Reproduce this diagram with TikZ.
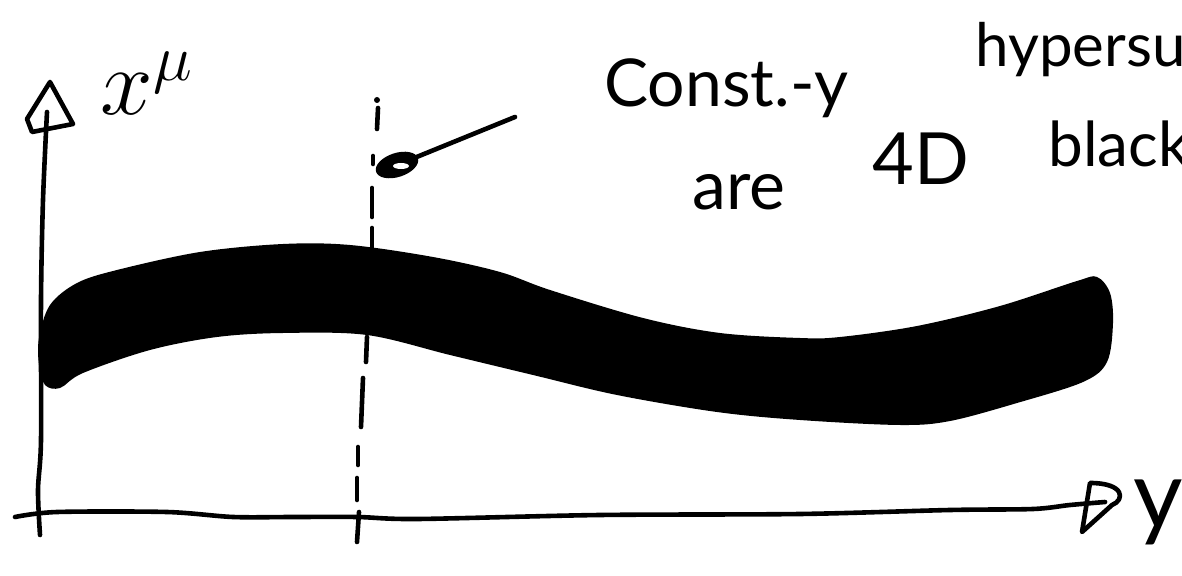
\documentclass[tikz,border=0pt]{standalone}
\usepackage{fontspec}
\usetikzlibrary{shapes.geometric}
\setmainfont{Lato}
\begin{document}
\begin{tikzpicture}[x=0.5pt,y=-0.5pt,
  pen/.style={line width=2.3pt,line cap=round,line join=round},
  hand/.style={inner sep=0pt,anchor=base west}]
\useasboundingbox (0,0) rectangle (1182,576);
\clip (0,0) rectangle (1182,576);
% thick band
\fill[black] plot[smooth cycle,tension=0.55] coordinates {
 (39,338) (50,305) (77,283) (117,270) (200,252) (283,244) (350,245) (433,257)
 (500,272) (550,290) (643,318) (720,333) (800,338) (840,337) (917,326)
 (1000,306) (1077,281) (1097,277) (1110,293) (1113,323) (1107,362) (1083,382)
 (1017,403) (950,421) (900,425) (800,420) (717,412) (617,395) (533,375) (450,355)
 (367,335) (283,333) (217,337) (150,350) (83,373) (60,388) (45,385) (39,365)};
% vertical axis
\draw[pen] plot[smooth,tension=0.5] coordinates {(47,112) (43,200) (41,300) (41,440) (38,490) (40,535)};
\draw[pen] (50,82) -- (73,124) -- (32,132) -- (27,119) -- cycle;
% horizontal axis
\draw[pen] plot[smooth,tension=0.5] coordinates {(15,517) (57,512) (167,512) (233,517) (293,517) (357,517) (417,519) (600,515) (800,514) (950,510) (1033,509) (1070,505) (1105,502)};
\draw[pen] (1090,483) .. controls (1125,483) and (1125,500) .. (1112,505) -- (1082,532) -- cycle;
% dashed vertical line (hand drawn)
\fill (377,100) circle (3);
\draw[pen] (378,108) -- (377,129);
\draw[pen] (373,156) -- (373,164);
\draw[pen] (372,188) -- (372,217);
\draw[pen] (372,228) -- (372,248);
\draw[pen] (367,337) -- (366,362);
\draw[pen] (363,378) -- (361,427);
\draw[pen] (358,447) -- (358,465);
\draw[pen] (357,478) -- (357,500);
\draw[pen] (359,512) -- (357,542);
% arrow with scribbled head
\coordinate (tail) at (515,117);
\node[fill=black,ellipse,inner sep=0pt,minimum width=22pt,minimum height=12pt,rotate=18] (blob) at (397,165) {};
\draw[pen] (tail) -- (blob.center);
\fill[white] (401,166) ellipse (8 and 3);
% labels
\node[hand,scale=1.9,font=\fontsize{24pt}{28pt}\selectfont] (xmu) at (100,115) {$x^{\mu}$};
\node[hand,font=\fontsize{33pt}{37pt}\selectfont] (const) at (604,107) {Const.-y};
\node[hand,font=\fontsize{34pt}{38pt}\selectfont] (are) at (692,210) {are};
\node[hand,font=\fontsize{36pt}{40pt}\selectfont] (fourd) at (872,185) {4D};
\node[hand,font=\fontsize{30pt}{34pt}\selectfont] (hyper) at (975,67) {hypersu};
\node[hand,font=\fontsize{31pt}{35pt}\selectfont] (black) at (1048,167) {black};
\node[hand,font=\fontsize{48pt}{52pt}\selectfont] (ylab) at (1133,528) {y};
\end{tikzpicture}
\end{document}
